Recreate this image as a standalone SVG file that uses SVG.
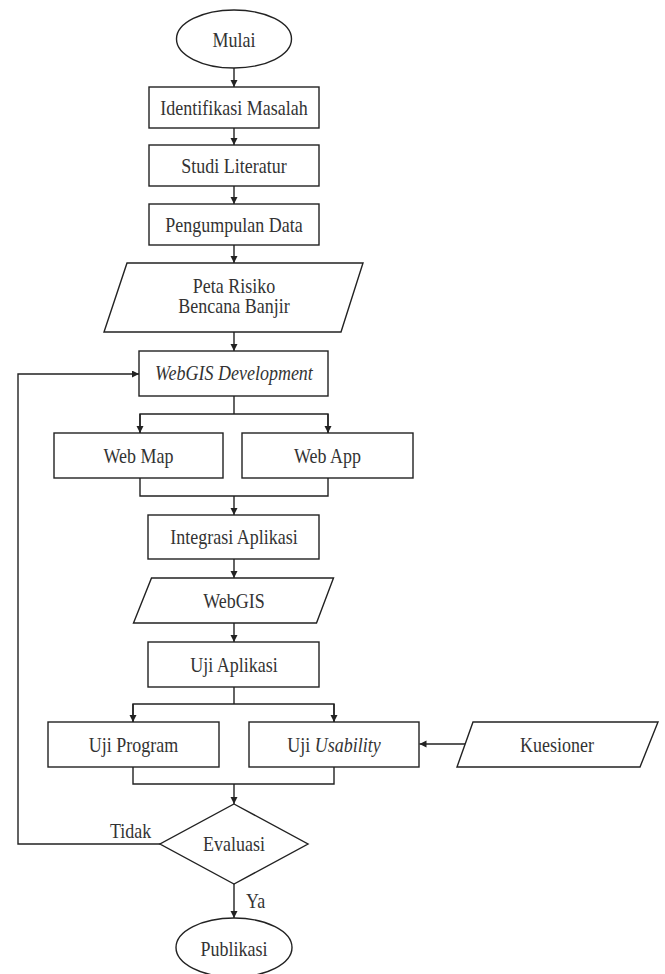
<svg xmlns="http://www.w3.org/2000/svg" width="665" height="974" viewBox="0 0 665 974">
<style>
.s{fill:#fff;stroke:#222;stroke-width:1.4}
.c{fill:none;stroke:#222;stroke-width:1.4}
.t{font-family:"Liberation Serif","Times New Roman",serif;font-size:18px;fill:#333;text-anchor:middle;transform-box:fill-box;transform-origin:50% 50%;transform:scaleY(1.12)}
.l{font-family:"Liberation Serif","Times New Roman",serif;font-size:18px;fill:#333;transform-box:fill-box;transform-origin:50% 50%;transform:scaleY(1.12)}
.i{font-style:italic}
</style>
<defs>
<marker id="ah" markerUnits="userSpaceOnUse" markerWidth="8" markerHeight="8" refX="7" refY="3.5" orient="auto">
<path d="M0,0 L7,3.5 L0,7 z" fill="#222"/>
</marker>
</defs>
<rect width="665" height="974" fill="#fff"/>
<g id="connectors">
<line class="c" x1="234" y1="68" x2="234" y2="87" marker-end="url(#ah)"/>
<line class="c" x1="234" y1="128" x2="234" y2="145" marker-end="url(#ah)"/>
<line class="c" x1="234" y1="186" x2="234" y2="204" marker-end="url(#ah)"/>
<line class="c" x1="234" y1="245" x2="234" y2="263" marker-end="url(#ah)"/>
<line class="c" x1="234" y1="332" x2="234" y2="351" marker-end="url(#ah)"/>
<polyline class="c" points="234,396 234,414"/>
<polyline class="c" points="140,433 140,414 328,414 328,433"/>
<line class="c" x1="140" y1="414" x2="140" y2="433" marker-end="url(#ah)"/>
<line class="c" x1="328" y1="414" x2="328" y2="433" marker-end="url(#ah)"/>
<polyline class="c" points="140,478 140,496 328,496 328,478"/>
<line class="c" x1="234" y1="496" x2="234" y2="515" marker-end="url(#ah)"/>
<line class="c" x1="234" y1="559" x2="234" y2="578" marker-end="url(#ah)"/>
<line class="c" x1="234" y1="623" x2="234" y2="642" marker-end="url(#ah)"/>
<polyline class="c" points="234,687 234,704"/>
<polyline class="c" points="133,722 133,704 334,704 334,722"/>
<line class="c" x1="133" y1="704" x2="133" y2="722" marker-end="url(#ah)"/>
<line class="c" x1="334" y1="704" x2="334" y2="722" marker-end="url(#ah)"/>
<polyline class="c" points="133,767 133,784 334,784 334,767"/>
<line class="c" x1="234" y1="784" x2="234" y2="804" marker-end="url(#ah)"/>
<line class="c" x1="466" y1="744" x2="419.5" y2="744" marker-end="url(#ah)"/>
<polyline class="c" points="160,844 18,844 18,374 139,374" marker-end="url(#ah)"/>
<line class="c" x1="234" y1="884" x2="234" y2="918" marker-end="url(#ah)"/>
<text class="l" x="110" y="837">Tidak</text>
<text class="l" x="246" y="907">Ya</text>
</g>
<g id="mulai"><ellipse class="s" cx="234" cy="39" rx="57.5" ry="29"/><text class="t" x="234" y="46">Mulai</text></g>
<g id="identifikasi"><rect class="s" x="149" y="87" width="170" height="41"/><text class="t" x="234" y="114">Identifikasi Masalah</text></g>
<g id="studi"><rect class="s" x="149" y="145" width="170" height="41"/><text class="t" x="234" y="172">Studi Literatur</text></g>
<g id="pengumpulan"><rect class="s" x="149" y="204" width="170" height="41"/><text class="t" x="234" y="231">Pengumpulan Data</text></g>
<g id="peta"><polygon class="s" points="127,263 363,263 341,332 104,332"/><text class="t" x="234" y="292">Peta Risiko</text><text class="t" x="234" y="312">Bencana Banjir</text></g>
<g id="webgisdev"><rect class="s" x="139" y="351" width="189" height="45"/><text class="t i" x="234" y="379">WebGIS Development</text></g>
<g id="webmap"><rect class="s" x="54" y="433" width="169" height="45"/><text class="t" x="138.5" y="462">Web Map</text></g>
<g id="webapp"><rect class="s" x="242" y="433" width="171" height="45"/><text class="t" x="327.5" y="462">Web App</text></g>
<g id="integrasi"><rect class="s" x="148" y="515" width="171" height="44"/><text class="t" x="234" y="543">Integrasi Aplikasi</text></g>
<g id="webgis"><polygon class="s" points="151.5,578 333.5,578 316.5,623 133.5,623"/><text class="t" x="234" y="607">WebGIS</text></g>
<g id="ujiaplikasi"><rect class="s" x="148" y="642" width="171" height="45"/><text class="t" x="234" y="671">Uji Aplikasi</text></g>
<g id="ujiprogram"><rect class="s" x="48" y="722" width="171" height="45"/><text class="t" x="133.5" y="751">Uji Program</text></g>
<g id="ujiusability"><rect class="s" x="249" y="722" width="170" height="45"/><text class="t" x="334" y="751">Uji <tspan class="i">Usability</tspan></text></g>
<g id="kuesioner"><polygon class="s" points="473,722 658,722 640,767 457,767"/><text class="t" x="557" y="751">Kuesioner</text></g>
<g id="evaluasi"><polygon class="s" points="234,804 308,844 234,884 160,844"/><text class="t" x="234" y="850">Evaluasi</text></g>
<g id="publikasi"><ellipse class="s" cx="234" cy="947.5" rx="58" ry="29.5"/><text class="t" x="234" y="955">Publikasi</text></g>
</svg>
